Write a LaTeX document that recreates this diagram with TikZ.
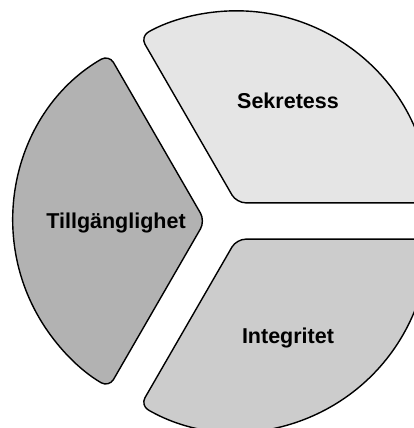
\documentclass[tikz,border=0pt]{standalone}
\usepackage{fontspec}
\setmainfont{Liberation Sans}
\begin{document}
\begin{tikzpicture}[x=1pt,y=1pt,line join=round,font=\fontsize{21.5}{25}\selectfont\bfseries]
	\tikzset{seg/.style={draw=black,line width=1.4pt,rounded corners=9pt}}
	\def\R{192} % radius of the pie
	\def\d{21} % how far each piece is pulled out
	\useasboundingbox (0,0) rectangle (414,428);
	\clip (0,0) rectangle (414,428);
	\coordinate (O) at (226,207);
	\foreach \a/\c in {60/gray!20,180/gray!60,300/gray!40}{
		\draw[seg,fill=\c] ([shift={(\a:\d)}]O) -- ++(\a-60:\R) arc (\a-60:\a+60:\R) -- cycle;
	}
	\node[anchor=base] (sek) at (288,319.7) {Sekretess};
	\node[anchor=base] (till) at (116,199.5) {Tillgänglighet};
	\node[anchor=base] (integ) at (288,84) {Integritet};
\end{tikzpicture}
\end{document}
